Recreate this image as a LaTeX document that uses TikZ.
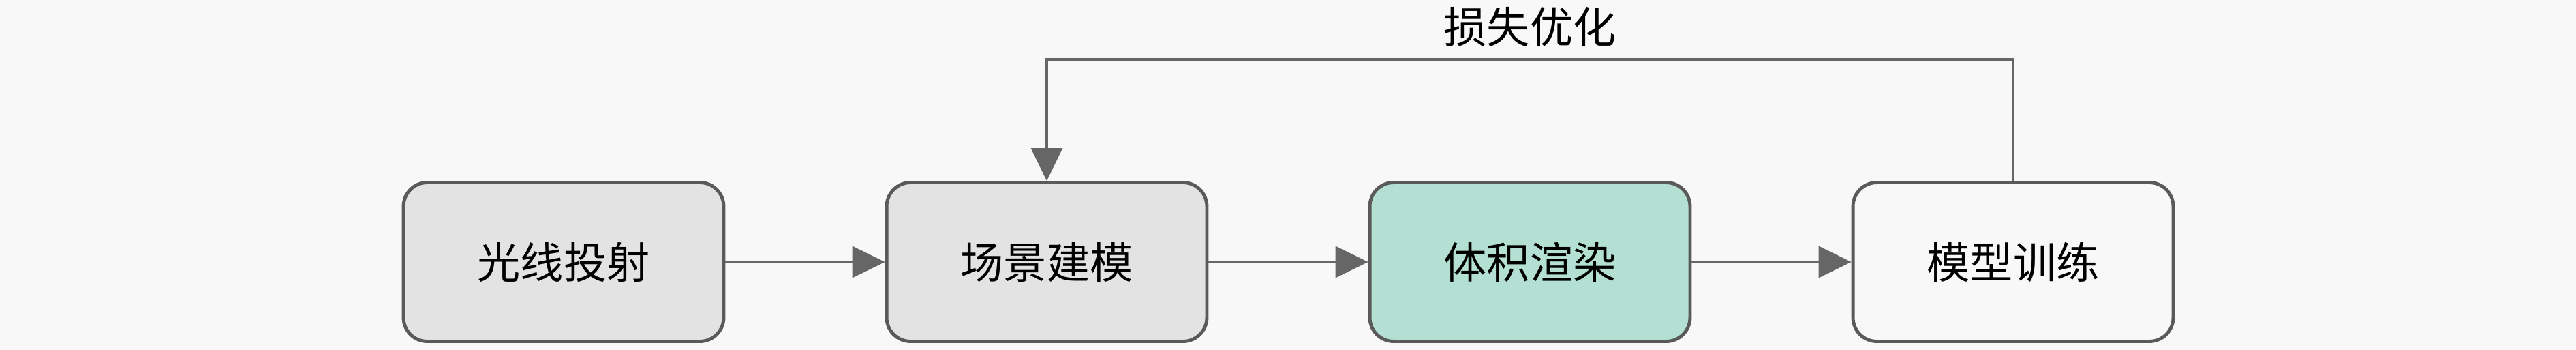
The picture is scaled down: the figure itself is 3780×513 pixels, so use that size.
\documentclass[tikz,border=0pt]{standalone}
\usepackage{fontspec}
\newfontfamily\cjk{Noto Sans CJK SC}
\usetikzlibrary{arrows.meta}
\definecolor{bgc}{HTML}{F8F8F8}
\definecolor{grayfill}{HTML}{E3E3E3}
\definecolor{mint}{HTML}{B3E0D2}
\definecolor{bordc}{HTML}{5A5A5A}
\definecolor{connc}{HTML}{666666}
\tikzset{
  procbox/.style={draw=bordc, line width=2.8pt, rounded corners=0.7cm,
    minimum width=9.4cm, minimum height=4.66cm, inner sep=0pt,
    font=\cjk\fontsize{36}{40}\selectfont, text=black},
  conn/.style={draw=connc, line width=2pt,
    -{Triangle[length=0.96cm,width=0.92cm]}},
  plainconn/.style={draw=connc, line width=2pt}
}
\begin{document}
\begin{tikzpicture}[x=0.02cm,y=-0.02cm]
\fill[bgc] (0,0) rectangle (3780,513);
\useasboundingbox (0,0) rectangle (3780,513);
\node[procbox, fill=grayfill] (m1) at (827,384) {光线投射};
\node[procbox, fill=grayfill] (m2) at (1536,384) {场景建模};
\node[procbox, fill=mint] (m3) at (2245,384) {体积渲染};
\node[procbox, fill=bgc] (m4) at (2954,384) {模型训练};
\draw[conn] (m1) -- (m2);
\draw[conn] (m2) -- (m3);
\draw[conn] (m3) -- (m4);
\coordinate (fbR) at (2954,87);
\coordinate (fbL) at (1536,87);
\draw[conn] (m4.north) -- (fbR) -- (fbL) -- (m2.north);
\node[font=\cjk\fontsize{36}{40}\selectfont, text=black] (lbl) at (2245,40) {损失优化};
\end{tikzpicture}
\end{document}
